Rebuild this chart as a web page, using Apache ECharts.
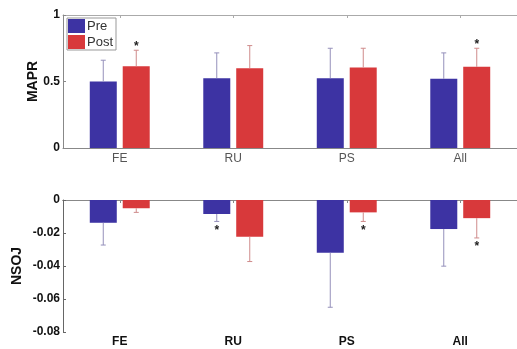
<!DOCTYPE html>
<html><head><meta charset="utf-8">
<script src="https://cdn.jsdelivr.net/npm/echarts@6/dist/echarts.min.js"></script>
<style>html,body{margin:0;padding:0;background:#fff}#c{width:517px;height:349px}</style>
</head><body><div id="c"></div>
<script>
var categories = ['FE', 'RU', 'PS', 'All'];
var mapPre = [0.50, 0.525, 0.525, 0.52];
var mapPost = [0.615, 0.60, 0.605, 0.61];
var mapPreErr = [0.16, 0.19, 0.225, 0.195];
var mapPostErr = [0.12, 0.17, 0.145, 0.14];
var mapPreSig = [0, 0, 0, 0];
var mapPostSig = [1, 0, 0, 1];
var nsojPre = [-0.0138, -0.0085, -0.032, -0.0176];
var nsojPost = [-0.005, -0.0223, -0.0075, -0.011];
var nsojPreErr = [0.0135, 0.0045, 0.033, 0.0225];
var nsojPostErr = [0.0025, 0.015, 0.0055, 0.012];
var nsojPreSig = [0, 1, 0, 0];
var nsojPostSig = [0, 0, 1, 1];
var mapTicks = [0, 0.5, 1];

var PRE = '#3d33a3', POST = '#d8393b';
var PRE_ERR = '#9590bb', POST_ERR = '#cf8b8b';
var FONT = 'Liberation Sans';
var BAR_W = 27, OFF = 16.5;

function errSeries(xi, yi, vals, errs, sigs, sign, off, color) {
  var data = vals.map(function (v, i) { return [i, v, v + sign * errs[i], sigs[i]]; });
  return {
    type: 'custom', xAxisIndex: xi, yAxisIndex: yi, data: data, z: 5,
    renderItem: function (params, api) {
      var p0 = api.coord([api.value(0), api.value(1)]);
      var p1 = api.coord([api.value(0), api.value(2)]);
      var x = p0[0] + off;
      var children = [
        { type: 'line', shape: { x1: x, y1: p0[1], x2: x, y2: p1[1] }, style: { stroke: color, lineWidth: 1 } },
        { type: 'line', shape: { x1: x - 2.5, y1: p1[1], x2: x + 2.5, y2: p1[1] }, style: { stroke: color, lineWidth: 1 } }
      ];
      if (api.value(3)) {
        children.push({ type: 'text', style: { text: '*', x: x, y: p1[1] + (sign > 0 ? -4 : 9), textAlign: 'center', textVerticalAlign: 'middle', fill: '#222', font: 'bold 12px ' + FONT } });
      }
      return { type: 'group', children: children };
    }
  };
}

function frameAxis(gridIndex, color) {
  return { type: 'category', gridIndex: gridIndex, data: categories, position: 'top',
    axisLine: { show: true, lineStyle: { color: color } },
    axisTick: { show: true, inside: true, alignWithLabel: true, length: 3, lineStyle: { color: color } },
    axisLabel: { show: false }, splitLine: { show: false } };
}

var chart = echarts.init(document.getElementById('c'), null, { renderer: 'canvas' });
chart.setOption({
  animation: false,
  backgroundColor: '#fff',
  textStyle: { fontFamily: FONT },
  legend: {
    data: ['Pre', 'Post'], orient: 'vertical', left: 67, top: 18, icon: 'rect',
    itemWidth: 17, itemHeight: 14, itemGap: 2, padding: [1, 3, 1, 1],
    borderColor: '#999', borderWidth: 1, backgroundColor: '#fff',
    textStyle: { fontSize: 13, color: '#333', fontFamily: FONT, padding: [0, 0, 0, -3] }
  },
  grid: [
    { left: 63, top: 15, width: 458, height: 133 },
    { left: 63, top: 200, width: 458, height: 132 }
  ],
  xAxis: [
    { type: 'category', gridIndex: 0, data: categories,
      axisLine: { lineStyle: { color: '#888' } },
      axisTick: { inside: true, alignWithLabel: true, length: 3, lineStyle: { color: '#888' } },
      axisLabel: { color: '#555', fontSize: 12, margin: 5, fontFamily: FONT } },
    { type: 'category', gridIndex: 1, data: categories,
      axisLine: { lineStyle: { color: '#555' } },
      axisTick: { inside: true, alignWithLabel: true, length: 3, lineStyle: { color: '#555' } },
      axisLabel: { color: '#111', fontSize: 12, fontWeight: 'bold', margin: 4, fontFamily: FONT } },
    frameAxis(0, '#aaa'),
    frameAxis(1, '#888')
  ],
  yAxis: [
    { type: 'value', gridIndex: 0, min: 0, max: 1, interval: 0.5,
      name: 'MAPR', nameLocation: 'middle', nameGap: 23, nameRotate: 90, nameMoveOverlap: false,
      nameTextStyle: { fontSize: 14, fontWeight: 'bold', color: '#111', fontFamily: FONT },
      axisLine: { show: true, lineStyle: { color: '#888' } },
      axisTick: { show: true, inside: true, length: 3, lineStyle: { color: '#888' } },
      splitLine: { show: false },
      axisLabel: { color: '#111', fontSize: 12, fontWeight: 'bold', margin: 3, fontFamily: FONT,
        formatter: function (v) { return mapTicks.indexOf(v) >= 0 ? String(v) : ''; } } },
    { type: 'value', gridIndex: 1, min: -0.08, max: 0, interval: 0.02,
      name: 'NSOJ', nameLocation: 'middle', nameGap: 39, nameRotate: 90, nameMoveOverlap: false,
      nameTextStyle: { fontSize: 14, fontWeight: 'bold', color: '#111', fontFamily: FONT },
      axisLine: { show: true, lineStyle: { color: '#666' } },
      axisTick: { show: true, inside: true, length: 3, lineStyle: { color: '#666' } },
      splitLine: { show: false },
      axisLabel: { color: '#111', fontSize: 12, fontWeight: 'bold', margin: 3, fontFamily: FONT,
        formatter: function (v) { return Math.abs(v) < 1e-9 ? '0' : v.toFixed(2); } } }
  ],
  series: [
    { name: 'Pre', type: 'bar', xAxisIndex: 0, yAxisIndex: 0, data: mapPre, barWidth: BAR_W, barGap: '22%', itemStyle: { color: PRE } },
    { name: 'Post', type: 'bar', xAxisIndex: 0, yAxisIndex: 0, data: mapPost, barWidth: BAR_W, barGap: '22%', itemStyle: { color: POST } },
    { name: 'Pre', type: 'bar', xAxisIndex: 1, yAxisIndex: 1, data: nsojPre, barWidth: BAR_W, barGap: '22%', itemStyle: { color: PRE } },
    { name: 'Post', type: 'bar', xAxisIndex: 1, yAxisIndex: 1, data: nsojPost, barWidth: BAR_W, barGap: '22%', itemStyle: { color: POST } },
    errSeries(0, 0, mapPre, mapPreErr, mapPreSig, 1, -OFF, PRE_ERR),
    errSeries(0, 0, mapPost, mapPostErr, mapPostSig, 1, OFF, POST_ERR),
    errSeries(1, 1, nsojPre, nsojPreErr, nsojPreSig, -1, -OFF, PRE_ERR),
    errSeries(1, 1, nsojPost, nsojPostErr, nsojPostSig, -1, OFF, POST_ERR)
  ]
});
</script></body></html>
